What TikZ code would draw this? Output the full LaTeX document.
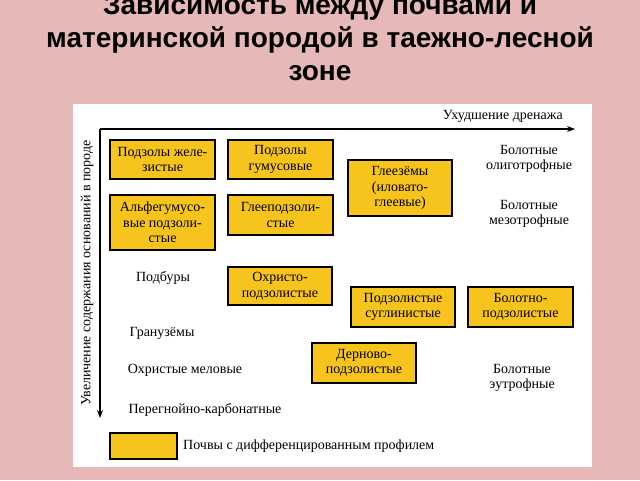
\documentclass[tikz,border=0pt]{standalone}
\usepackage{fontspec}
\setmainfont{Liberation Serif}
\newfontfamily\titlefont{Liberation Sans}
\usetikzlibrary{arrows.meta}
\definecolor{bgpink}{RGB}{230,185,184}
\definecolor{soilyellow}{RGB}{246,196,28}
\tikzset{
  soil/.style={draw=black, line width=1.3pt, fill=soilyellow, align=center, inner sep=0pt,
    font=\fontsize{14}{15.5}\selectfont},
  plain/.style={align=center, inner sep=0pt, font=\fontsize{14}{15.5}\selectfont},
  axis/.style={line width=1.1pt, -{Stealth[length=8pt,width=6pt]}},
  ttl/.style={font=\titlefont\bfseries\fontsize{28}{31}\selectfont, align=center, inner sep=0pt, anchor=base}
}
\begin{document}
\begin{tikzpicture}[x=1pt,y=-1pt]
\useasboundingbox (0,0) rectangle (640,480);
\fill[bgpink] (0,0) rectangle (640,480);
\fill[white] (73,104) rectangle (592,467);
% title
\node[ttl] (t1) at (320,14) {Зависимость между почвами и};
\node[ttl] (t2) at (320,47) {материнской породой в таежно-лесной};
\node[ttl] (t3) at (320,80) {зоне};
% axes
\coordinate (o) at (100,129);
\coordinate (xe) at (575,129);
\coordinate (ye) at (100,418);
\draw[axis] (o) -- (xe);
\draw[axis] (o) -- (ye);
\node[plain, anchor=south east] (xl) at (563,123) {Ухудшение дренажа};
\node[plain, rotate=90] (yl) at (87,273) {Увеличение содержания оснований в породе};
% boxes
\node[soil, minimum width=105pt, minimum height=39pt] (b1) at (162.5,159.5) {Подзолы желе-\\зистые};
\node[soil, minimum width=105pt, minimum height=39pt] (b2) at (280.5,159.5) {Подзолы\\гумусовые};
\node[soil, minimum width=105pt, minimum height=55pt] (b3) at (162.5,222.5) {Альфегумусо-\\вые подзоли-\\стые};
\node[soil, minimum width=105pt, minimum height=40pt] (b4) at (280.5,215) {Глееподзоли-\\стые};
\node[soil, minimum width=104pt, minimum height=56pt] (b5) at (400,188) {Глеезёмы\\(иловато-\\глеевые)};
\node[soil, minimum width=104pt, minimum height=38pt] (b6) at (280,286) {Охристо-\\подзолистые};
\node[soil, minimum width=104pt, minimum height=40pt] (b7) at (403,307) {Подзолистые\\суглинистые};
\node[soil, minimum width=105pt, minimum height=40pt] (b8) at (520.5,307) {Болотно-\\подзолистые};
\node[soil, minimum width=104pt, minimum height=40pt] (b9) at (364,363) {Дерново-\\подзолистые};
% plain labels
\node[plain] (p1) at (529,159) {Болотные\\олиготрофные};
\node[plain] (p2) at (529,214) {Болотные\\мезотрофные};
\node[plain] (p3) at (163,278) {Подбуры};
\node[plain] (p4) at (162,333) {Гранузёмы};
\node[plain] (p5) at (185,370) {Охристые меловые};
\node[plain] (p6) at (205,410) {Перегнойно-карбонатные};
\node[plain] (p7) at (522,378) {Болотные\\эутрофные};
% legend
\node[soil, minimum width=67pt, minimum height=26pt] (lg) at (143.5,446) {};
\node[plain, anchor=west] (lgt) at (183,446) {Почвы с дифференцированным профилем};
\end{tikzpicture}
\end{document}
